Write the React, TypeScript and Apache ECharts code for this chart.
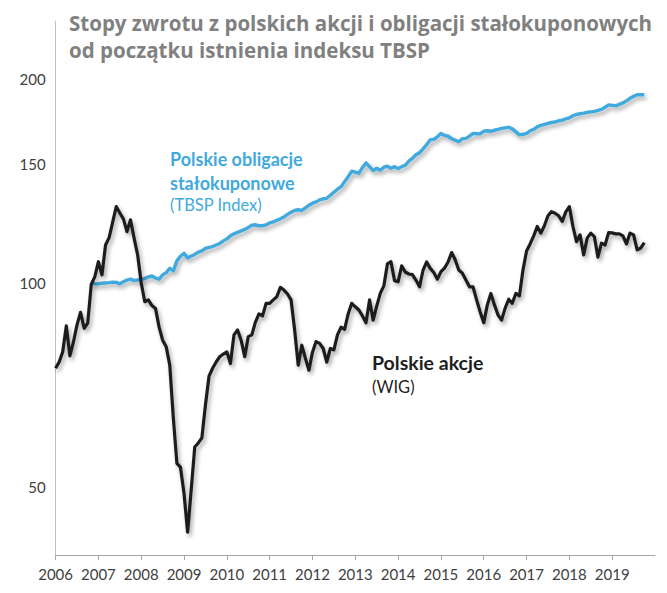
import React, { useEffect, useRef } from "react";
import * as echarts from "echarts";

// Monthly index levels, start = [year, month]
const wigStart: [number, number] = [2006, 1];
const wigValues = [
  74.8, 76.4, 79.1, 86.4, 78.0, 81.8, 86.7, 90.5, 85.7, 87.2, 99.5, 102.2,
  107.5, 102.8, 113.8, 116.7, 123.0, 129.7, 126.9, 124.4, 119.1, 124.0, 116.5, 110.0,
  100.0, 93.8, 94.4, 92.6, 91.7, 86.1, 82.3, 80.5, 75.6, 63.1, 54.1, 53.4,
  48.8, 42.8, 49.4, 57.2, 58.0, 59.0, 66.0, 72.8, 74.8, 76.4, 77.8, 78.5,
  79.1, 76.0, 83.8, 85.2, 82.3, 77.8, 83.3, 83.8, 87.5, 90.0, 89.4, 93.3,
  93.3, 94.4, 95.4, 98.5, 97.6, 96.3, 94.4, 85.2, 75.6, 80.9, 77.4, 74.3,
  79.0, 81.9, 81.4, 80.0, 76.4, 80.0, 79.6, 83.8, 86.0, 85.4, 90.0, 93.3,
  92.2, 91.2, 89.4, 87.3, 94.4, 88.1, 92.4, 96.5, 99.0, 106.7, 107.5, 100.8,
  100.4, 106.0, 103.8, 103.1, 102.9, 101.0, 98.7, 104.5, 107.4, 105.1, 103.6, 101.3,
  103.9, 105.2, 107.4, 110.9, 108.2, 104.5, 103.4, 101.0, 98.7, 98.7, 94.4, 90.6,
  87.3, 92.8, 96.5, 92.8, 89.7, 88.1, 91.8, 94.6, 93.3, 96.5, 95.7, 104.5,
  111.5, 114.2, 117.4, 121.2, 118.5, 121.5, 125.7, 127.5, 126.8, 125.7, 123.3, 127.4,
  129.7, 121.2, 115.1, 117.8, 110.0, 116.5, 118.5, 117.1, 109.2, 114.5, 113.8, 118.7,
  118.6, 118.2, 118.2, 117.4, 114.2, 118.5, 117.8, 111.9, 112.6, 114.7,
];

const tbspStart: [number, number] = [2006, 11];
const tbspValues = [
  100.0, 99.7,
  99.7, 99.9, 100.0, 100.1, 100.3, 100.2, 99.7, 100.4, 101.0, 101.3, 100.8, 101.0,
  101.2, 101.5, 102.1, 102.4, 101.7, 101.3, 102.8, 103.6, 105.1, 104.2, 107.8, 109.5,
  110.6, 108.9, 109.6, 110.2, 111.1, 111.5, 112.5, 112.9, 113.2, 113.8, 114.4, 115.4,
  116.2, 117.4, 118.2, 118.8, 119.4, 120.0, 120.8, 121.7, 121.9, 121.5, 121.5, 121.9,
  122.7, 123.1, 123.8, 124.4, 125.2, 126.3, 127.2, 128.0, 128.3, 128.0, 129.1, 130.3,
  131.2, 131.8, 132.7, 133.2, 133.4, 134.8, 136.2, 137.6, 138.8, 141.2, 143.6, 146.3,
  145.8, 145.3, 148.1, 150.5, 148.6, 146.6, 147.8, 146.8, 148.3, 148.8, 147.8, 148.6,
  147.6, 148.6, 149.3, 151.4, 152.9, 154.7, 155.8, 157.9, 160.1, 162.8, 163.1, 164.5,
  166.3, 165.3, 164.8, 163.4, 162.6, 161.7, 163.4, 163.6, 164.8, 166.4, 166.2, 166.2,
  167.6, 167.9, 167.6, 168.2, 168.7, 169.3, 169.6, 169.9, 169.0, 167.3, 165.6, 165.9,
  166.4, 167.9, 168.7, 170.2, 171.0, 171.6, 172.2, 172.7, 173.1, 173.7, 174.0, 174.9,
  175.5, 176.7, 177.5, 177.9, 178.3, 178.8, 179.1, 179.4, 180.0, 180.6, 181.9, 183.4,
  183.1, 182.8, 183.7, 184.6, 185.9, 187.5, 188.8, 189.8, 189.8, 189.8,
];

const yTickValues = [50, 100, 150, 200];
const xFirstYear = 2006;
const xLastYear = 2020;

const titleLines = [
  "Stopy zwrotu z polskich akcji i obligacji stałokuponowych",
  "od początku istnienia indeksu TBSP",
];

const FONT = "Lato, 'Open Sans', sans-serif";
const TITLE_FONT = "'Open Sans', Lato, sans-serif";
const BLUE = "#41a9dd";
const BLACK = "#1e1e1e";

function toPoints(start: [number, number], values: number[]) {
  return values.map((v, i) => [start[0] + (start[1] - 1 + i) / 12, v]);
}

export default function App() {
  const ref = useRef<HTMLDivElement>(null);
  useEffect(() => {
    if (!ref.current) return;
    const chart = echarts.init(ref.current, undefined, { renderer: "svg" });
    const shadow = {
      shadowColor: "rgba(0,0,0,0.35)",
      shadowBlur: 4,
      shadowOffsetX: 2,
      shadowOffsetY: 3,
    };
    chart.setOption({
      animation: false,
      backgroundColor: "#ffffff",
      grid: { left: 55.6, right: 12, top: 21, bottom: 38 },
      xAxis: {
        type: "value",
        min: xFirstYear,
        max: xLastYear,
        interval: 1,
        axisLine: { show: true, lineStyle: { color: "#a6a6a6", width: 1 } },
        axisTick: { show: true, length: 5, lineStyle: { color: "#a6a6a6" } },
        splitLine: { show: false },
        axisLabel: {
          color: "#404040",
          fontFamily: FONT,
          fontSize: 15,
          margin: 11,
          showMaxLabel: false,
          formatter: (v: number) => String(v),
        },
      },
      yAxis: {
        type: "log",
        min: 39.6,
        max: 244,
        axisLine: { show: true, lineStyle: { color: "#bfbfbf", width: 1 } },
        axisTick: { show: false },
        splitLine: { show: false },
        axisLabel: {
          color: "#404040",
          fontFamily: FONT,
          fontSize: 15,
          margin: 10,
          customValues: yTickValues,
          formatter: (v: number) => String(Math.round(v)),
        },
      },
      graphic: [
        {
          type: "text",
          left: 69,
          top: 9,
          style: {
            text: titleLines.join("\n"),
            fill: "#808080",
            font: `bold 20.5px ${TITLE_FONT}`,
            lineHeight: 27,
          },
        },
        {
          type: "text",
          left: 170,
          top: 147,
          style: {
            text: "Polskie obligacje\nstałokuponowe",
            fill: BLUE,
            font: `bold 18px ${FONT}`,
            lineHeight: 24,
          },
        },
        {
          type: "text",
          left: 170,
          top: 196,
          style: { text: "(TBSP Index)", fill: BLUE, font: `16.5px ${FONT}` },
        },
        {
          type: "text",
          left: 372,
          top: 352,
          style: { text: "Polskie akcje", fill: BLACK, font: `bold 19.5px ${FONT}` },
        },
        {
          type: "text",
          left: 372,
          top: 378,
          style: { text: "(WIG)", fill: BLACK, font: `16.5px ${FONT}` },
        },
      ],
      series: [
        {
          name: "TBSP",
          type: "line",
          data: toPoints(tbspStart, tbspValues),
          showSymbol: false,
          lineStyle: { color: BLUE, width: 3.4, join: "round", ...shadow },
        },
        {
          name: "WIG",
          type: "line",
          data: toPoints(wigStart, wigValues),
          showSymbol: false,
          lineStyle: { color: BLACK, width: 3.2, join: "round", ...shadow },
        },
      ],
    });
    return () => chart.dispose();
  }, []);
  return (
    <div
      ref={ref}
      style={{ position: "fixed", left: 0, top: 0, width: 667, height: 593 }}
    />
  );
}
